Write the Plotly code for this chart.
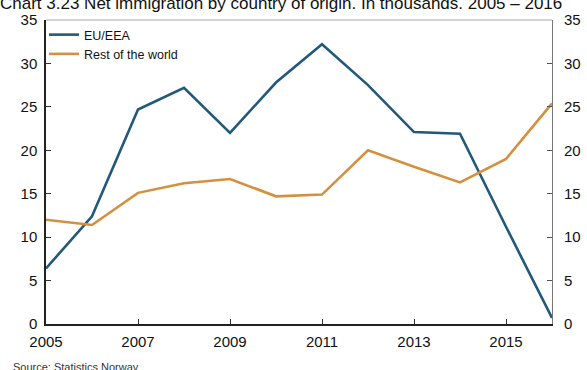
import plotly.graph_objects as go

years = list(range(2005, 2017))
eu_eea = [6.4, 12.4, 24.7, 27.2, 22.0, 27.8, 32.2, 27.5, 22.1, 21.9, 11.2, 0.7]
rest_world = [12.0, 11.4, 15.1, 16.2, 16.7, 14.7, 14.9, 20.0, 18.1, 16.3, 19.0, 25.4]
x_tickvals = [2005, 2007, 2009, 2011, 2013, 2015]
y_tickvals = [0, 5, 10, 15, 20, 25, 30, 35]

title_text = "Chart 3.23 Net immigration by country of origin. In thousands. 2005 \u2013 2016"
source_text = "Source: Statistics Norway"

BLUE = "#22597A"
ORANGE = "#D4903E"
FONT = "Liberation Sans, Arial, sans-serif"

fig = go.Figure()
fig.add_trace(go.Scatter(x=years, y=eu_eea, mode="lines", name="EU/EEA",
                         line=dict(color=BLUE, width=2.6)))
fig.add_trace(go.Scatter(x=years, y=rest_world, mode="lines", name="Rest of the world",
                         line=dict(color=ORANGE, width=2.6)))
# invisible trace on right axis to show labels
fig.add_trace(go.Scatter(x=[years[0]], y=[0], yaxis="y2", mode="markers",
                         marker=dict(opacity=0), showlegend=False, hoverinfo="skip"))

fig.update_layout(
    width=587, height=370,
    margin=dict(l=46, r=35, t=20, b=46, autoexpand=False),
    paper_bgcolor="white", plot_bgcolor="white",
    font=dict(family=FONT, size=15, color="#111"),
    title=dict(text=title_text, x=0.0, xanchor="left", xref="container",
               y=0.993, yref="container", yanchor="middle", automargin=False,
               font=dict(family=FONT, size=17, color="#111"), pad=dict(t=0, l=0)),
    showlegend=True,
    legend=dict(x=-0.004, y=1.0, xanchor="left", yanchor="top",
                bgcolor="rgba(0,0,0,0)", borderwidth=0,
                font=dict(family=FONT, size=12.5, color="#111"),
                itemwidth=30, tracegroupgap=0),
    xaxis=dict(range=[2005, 2016], tickvals=x_tickvals, ticktext=[str(v) for v in x_tickvals],
               ticks="inside", ticklen=5, tickcolor="#333", showgrid=False, zeroline=False,
               showline=True, linecolor="#222", linewidth=1.5, mirror=False, automargin=False,
               tickfont=dict(size=15, color="#111"), ticklabelstandoff=3),
    yaxis=dict(range=[0, 35], tickvals=y_tickvals, ticks="inside", ticklen=5, tickcolor="#333",
               showgrid=False, zeroline=False, showline=True, linecolor="#222", linewidth=1.5,
               automargin=False, tickfont=dict(size=15, color="#111"), ticklabelstandoff=4),
    yaxis2=dict(range=[0, 35], tickvals=y_tickvals, ticks="inside", ticklen=5, tickcolor="#555",
                overlaying="y", side="right", anchor="x", automargin=False,
                showgrid=False, zeroline=False, showline=True, linecolor="#777", linewidth=1,
                tickfont=dict(size=15, color="#111"), ticklabelstandoff=8),
)

# top frame line
fig.add_shape(type="line", xref="paper", yref="paper", x0=0, x1=1, y0=1, y1=1,
              line=dict(color="#aaa", width=1))

fig.add_annotation(text=source_text, xref="paper", yref="paper", x=-0.07, y=-0.115,
                   xanchor="left", yanchor="top", showarrow=False,
                   font=dict(family=FONT, size=11, color="#333"))

fig.write_html("out.html", config={"displayModeBar": False},
               post_script="document.body.style.margin='0';")
